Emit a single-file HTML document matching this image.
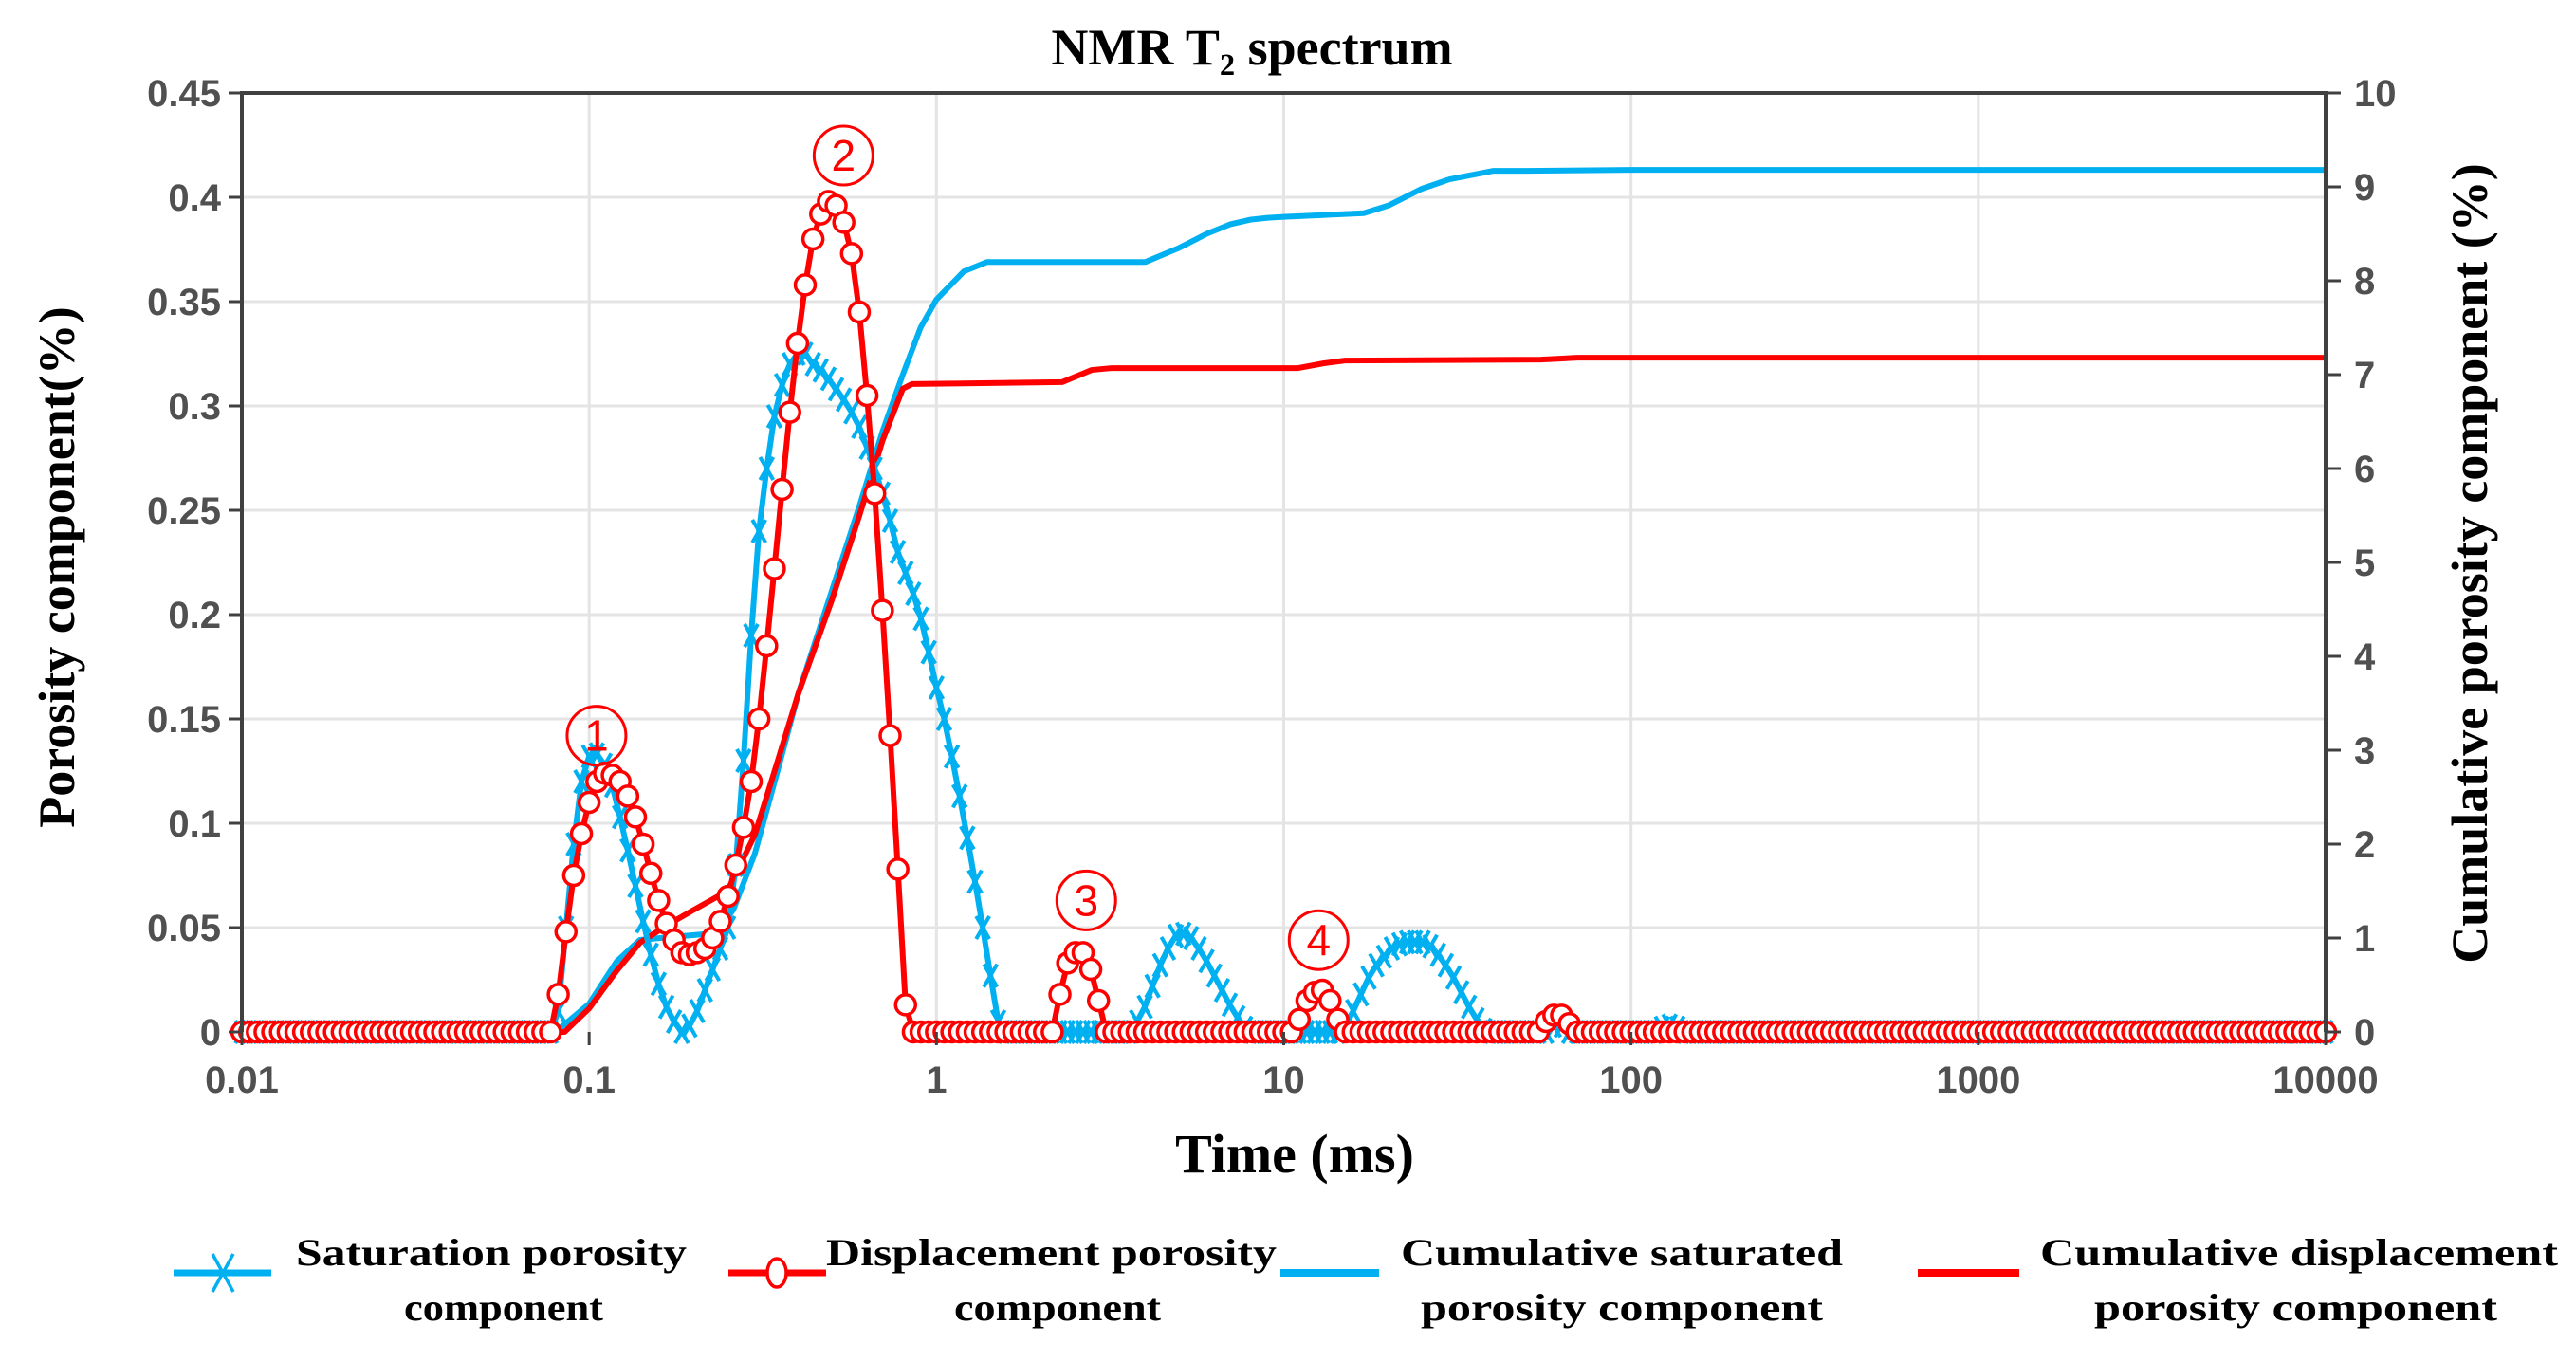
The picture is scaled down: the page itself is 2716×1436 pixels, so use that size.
<!DOCTYPE html>
<html><head><meta charset="utf-8"><style>
html,body{margin:0;padding:0;background:#fff;}
svg{display:block;}
</style></head><body>
<svg id="chart" xmlns="http://www.w3.org/2000/svg" width="2716" height="1436" viewBox="0 0 2716 1436">
<rect width="2716" height="1436" fill="#fff"/>
<g id="grid"></g>
<g id="series"></g>
<g id="axes"></g>
<text x="1320" y="68" text-anchor="middle" font-family="Liberation Serif, serif" font-weight="bold" font-size="54">NMR T₂ spectrum</text>
<text x="1365" y="1236" text-anchor="middle" font-family="Liberation Serif, serif" font-weight="bold" font-size="58">Time (ms)</text>
<text transform="translate(78,598) rotate(-90)" text-anchor="middle" font-family="Liberation Serif, serif" font-weight="bold" font-size="54">Porosity component(%)</text>
<text transform="translate(2622,594) rotate(-90)" text-anchor="middle" font-family="Liberation Serif, serif" font-weight="bold" font-size="54">Cumulative porosity component (%)</text>
<g id="annot"></g>
<g id="legend" font-family="Liberation Serif, serif" font-weight="bold" font-size="40">
 <g>
  <line x1="183" y1="1342" x2="286" y2="1342" stroke="#00b0f0" stroke-width="7"/>
  <path d="M224 1322 L246 1362 M246 1322 L224 1362" stroke="#00b0f0" stroke-width="3.5"/>
  <text x="312" y="1334" textLength="412" lengthAdjust="spacingAndGlyphs">Saturation porosity</text>
  <text x="426" y="1392" textLength="210" lengthAdjust="spacingAndGlyphs">component</text>
 </g>
 <g>
  <line x1="768" y1="1342" x2="871" y2="1342" stroke="#ff0000" stroke-width="7"/>
  <ellipse cx="819" cy="1342" rx="10" ry="15" fill="#fff" stroke="#ff0000" stroke-width="3.5"/>
  <text x="871" y="1334" textLength="475" lengthAdjust="spacingAndGlyphs">Displacement porosity</text>
  <text x="1006" y="1392" textLength="218" lengthAdjust="spacingAndGlyphs">component</text>
 </g>
 <g>
  <line x1="1350" y1="1342" x2="1454" y2="1342" stroke="#00b0f0" stroke-width="8"/>
  <text x="1477" y="1334" textLength="466" lengthAdjust="spacingAndGlyphs">Cumulative saturated</text>
  <text x="1498" y="1392" textLength="424" lengthAdjust="spacingAndGlyphs">porosity component</text>
 </g>
 <g>
  <line x1="2022" y1="1342" x2="2129" y2="1342" stroke="#ff0000" stroke-width="8"/>
  <text x="2151" y="1334" textLength="546" lengthAdjust="spacingAndGlyphs">Cumulative displacement</text>
  <text x="2208" y="1392" textLength="425" lengthAdjust="spacingAndGlyphs">porosity component</text>
 </g>
</g>
</svg>
<script>
// ---- data ----
const perDecade = 45;
const gridCount = 271; // samples from 0.01 to 10000 ms
const satIdx = [41,42,43,44,45,46,47,48,49,50,51,52,53,54,55,56,57,58,59,60,61,62,63,64,65,66,67,68,69,70,71,72,73,74,75,76,77,78,79,80,81,82,83,84,85,86,87,88,89,90,91,92,93,94,95,96,97,98,
 116,117,118,119,120,121,122,123,124,125,126,127,128,129,130,
 143,144,145,146,147,148,149,150,151,152,153,154,155,156,157,158,159,160,161,
 170,171,184,185,186];
const satVal = [0.01,0.05,0.09,0.12,0.132,0.133,0.128,0.118,0.103,0.087,0.07,0.053,0.037,0.023,0.012,0.005,0.0,0.003,0.01,0.02,0.03,0.04,0.05,0.08,0.13,0.19,0.24,0.27,0.295,0.31,0.32,0.325,0.325,0.32,0.317,0.313,0.308,0.303,0.297,0.29,0.28,0.27,0.258,0.245,0.23,0.22,0.21,0.198,0.182,0.165,0.15,0.132,0.113,0.093,0.072,0.05,0.027,0.005,
 0.005,0.012,0.022,0.032,0.04,0.046,0.047,0.045,0.04,0.034,0.027,0.02,0.013,0.007,0.002,
 0.003,0.01,0.018,0.026,0.032,0.036,0.04,0.042,0.043,0.043,0.043,0.041,0.037,0.032,0.026,0.019,0.012,0.006,0.001,
 0.003,0.003,0.002,0.003,0.002];
const dispIdx = [41,42,43,44,45,46,47,48,49,50,51,52,53,54,55,56,57,58,59,60,61,62,63,64,65,66,67,68,69,70,71,72,73,74,75,76,77,78,79,80,81,82,83,84,85,86,
 106,107,108,109,110,111,137,138,139,140,141,142,169,170,171,172];
const dispVal = [0.018,0.048,0.075,0.095,0.11,0.12,0.124,0.123,0.12,0.113,0.103,0.09,0.076,0.063,0.052,0.044,0.038,0.037,0.038,0.04,0.045,0.053,0.065,0.08,0.098,0.12,0.15,0.185,0.222,0.26,0.297,0.33,0.358,0.38,0.392,0.398,0.396,0.388,0.373,0.345,0.305,0.258,0.202,0.142,0.078,0.013,
 0.018,0.033,0.038,0.038,0.03,0.015,0.006,0.015,0.019,0.02,0.015,0.006,0.005,0.008,0.008,0.004];
const cumSatT = [0.01,0.08,0.1,0.12,0.14,0.16,0.23,0.26,0.3,0.35,0.4,0.5,0.6,0.7,0.8,0.9,1.0,1.2,1.4,1.7,4.0,5,6,7,8,9,10,17,20,25,30,40,50,100,10000];
const cumSatV = [0,0,0.3,0.75,0.98,1.0,1.05,1.3,1.9,2.8,3.6,4.7,5.6,6.4,7.0,7.5,7.8,8.1,8.2,8.2,8.2,8.35,8.5,8.6,8.65,8.67,8.68,8.72,8.8,8.98,9.08,9.17,9.17,9.18,9.18];
const cumDispT = [0.01,0.085,0.1,0.12,0.14,0.17,0.2,0.25,0.3,0.35,0.4,0.5,0.6,0.7,0.8,0.85,2.3,2.8,3.2,11,13,15,55,70,10000];
const cumDispV = [0,0,0.25,0.65,0.95,1.15,1.3,1.5,2.1,2.9,3.6,4.6,5.5,6.3,6.85,6.9,6.92,7.05,7.07,7.07,7.12,7.15,7.16,7.18,7.18];
const xTicks = ["0.01","0.1","1","10","100","1000","10000"];
const yLeftTicks = ["0","0.05","0.1","0.15","0.2","0.25","0.3","0.35","0.4","0.45"];
const yRightTicks = ["0","1","2","3","4","5","6","7","8","9","10"];
const circledLabels = ["1","2","3","4"];
const circledT = [0.105,0.54,2.7,12.6];
const circledV = [0.142,0.42,0.063,0.044];

// ---- axes ----
const L=255,R=2452,T=98,B=1088;
const x = t => L + (Math.log10(t)+2)/6*(R-L);
const yL = v => B - v/0.45*(B-T);
const yR = v => B - v/10*(B-T);
const NS="http://www.w3.org/2000/svg";
function mk(tag,attrs,parent){const e=document.createElementNS(NS,tag);for(const k in attrs)e.setAttribute(k,attrs[k]);parent.appendChild(e);return e;}
const grid=document.getElementById('grid'),axes=document.getElementById('axes'),ser=document.getElementById('series'),ann=document.getElementById('annot');
const gridT = i => 0.01*Math.pow(10,i/perDecade);

yLeftTicks.forEach((s,i)=>{const v=parseFloat(s);const yy=yL(v);
 if(i>0&&i<yLeftTicks.length-1){const g=mk('line',{x1:L,x2:R,y1:yy,y2:yy,stroke:'#e4e4e4','stroke-width':3},grid);
 
 }
 const tk=mk('line',{x1:L-14,x2:L,y1:yy,y2:yy,stroke:'#404040','stroke-width':3},axes);
 
 
 const tx=mk('text',{x:L-22,y:yy+14,'text-anchor':'end','font-family':'Liberation Sans, sans-serif','font-weight':'bold','font-size':40,fill:'#505050'},axes);
 tx.textContent=s;
 
 
});
yRightTicks.forEach(s=>{const yy=yR(parseFloat(s));
 const tk=mk('line',{x1:R,x2:R+16,y1:yy,y2:yy,stroke:'#404040','stroke-width':3},axes);
 
 
 const tx=mk('text',{x:R+30,y:yy+14,'font-family':'Liberation Sans, sans-serif','font-weight':'bold','font-size':40,fill:'#505050'},axes);
 tx.textContent=s;
 
 
});
xTicks.forEach((s,i)=>{const xx=x(parseFloat(s));
 if(i>0&&i<xTicks.length-1){const g=mk('line',{x1:xx,x2:xx,y1:T,y2:B,stroke:'#e4e4e4','stroke-width':3},grid);
 
 }
 const tk=mk('line',{x1:xx,x2:xx,y1:B,y2:B+14,stroke:'#404040','stroke-width':3},axes);
 
 
 const tx=mk('text',{x:xx,y:B+64,'text-anchor':'middle','font-family':'Liberation Sans, sans-serif','font-weight':'bold','font-size':40,fill:'#505050'},axes);
 tx.textContent=s;
 
 
});
const fr=mk('path',{d:`M${L} ${B} L${L} ${T} L${R} ${T} L${R} ${B}`,fill:'none',stroke:'#404040','stroke-width':4},axes);



function fullSeries(idx,val){const a=new Array(gridCount).fill(0);idx.forEach((k,j)=>a[k]=val[j]);return a;}
const sat=fullSeries(satIdx,satVal), disp=fullSeries(dispIdx,dispVal);

function line(ts,vs,yf,color,name){const p=mk('polyline',{points:ts.map((t,i)=>x(t)+','+yf(vs[i])).join(' '),fill:'none',stroke:color,'stroke-width':6,'stroke-linejoin':'round'},ser);
 
 }
line(cumSatT,cumSatV,yR,'#00b0f0','cumulative-saturated-line');
line(cumDispT,cumDispV,yR,'#ff0000','cumulative-displacement-line');

const sl=mk('polyline',{points:sat.map((v,i)=>x(gridT(i))+','+yL(v)).join(' '),fill:'none',stroke:'#00b0f0','stroke-width':6},ser);


sat.forEach((v,i)=>{const cx=x(gridT(i)),cy=yL(v);
 const m=mk('path',{d:`M${cx-7} ${cy-12} L${cx+7} ${cy+12} M${cx+7} ${cy-12} L${cx-7} ${cy+12}`,stroke:'#00b0f0','stroke-width':4},ser);
 
 
});
const dl=mk('polyline',{points:disp.map((v,i)=>x(gridT(i))+','+yL(v)).join(' '),fill:'none',stroke:'#ff0000','stroke-width':6},ser);


disp.forEach((v,i)=>{
 const c=mk('circle',{cx:x(gridT(i)),cy:yL(v),r:10.5,fill:'#fff',stroke:'#ff0000','stroke-width':3.5},ser);
 
 
});
circledLabels.forEach((s,i)=>{const cx=x(circledT[i]),cy=yL(circledV[i]);
 const g=mk('g',{},ann);
 
 
 mk('circle',{cx:cx,cy:cy,r:31,fill:'none',stroke:'#ff0000','stroke-width':3},g);
 const t=mk('text',{x:cx,y:cy+16,'text-anchor':'middle','font-family':'Liberation Sans, sans-serif','font-size':46,fill:'#ff0000'},g);
 t.textContent=s;
});
</script>
</body></html>
